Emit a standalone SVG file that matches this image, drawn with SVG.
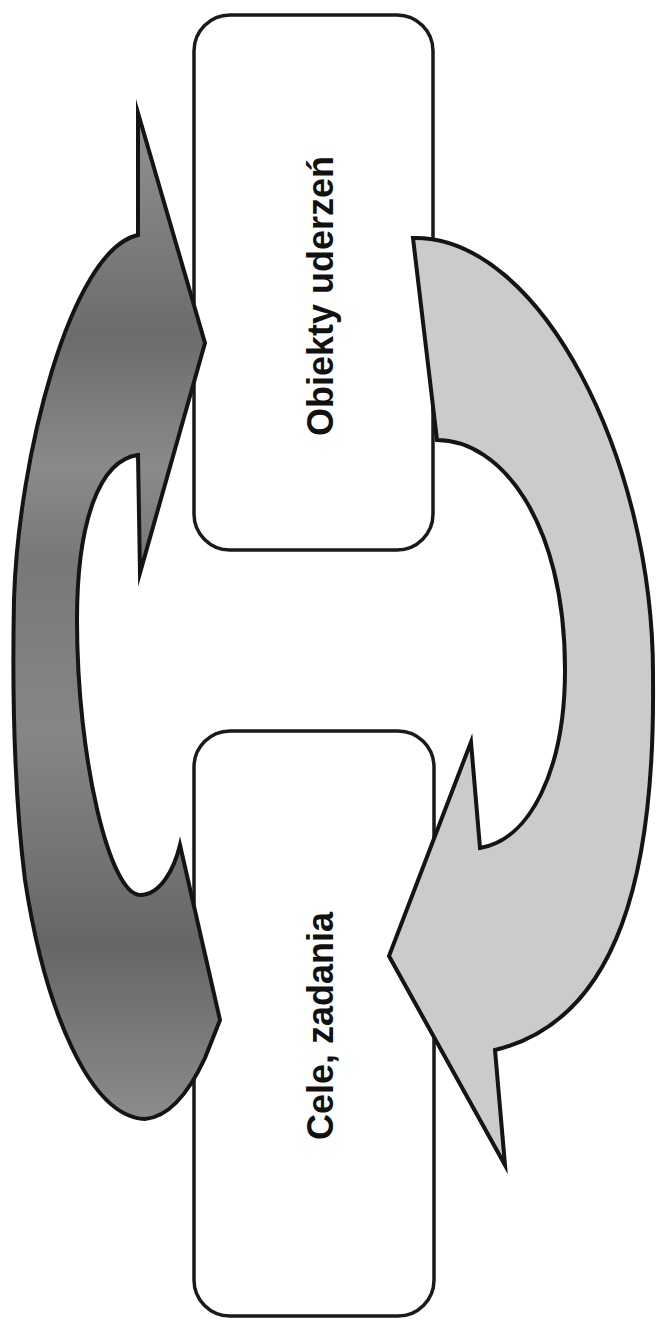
<svg xmlns="http://www.w3.org/2000/svg" width="656" height="1322" viewBox="0 0 656 1322">
  <style>
    .box { fill: #ffffff; stroke: #1a1a1a; stroke-width: 3.5; }
    .lbl { font-family: "Liberation Sans", Arial, sans-serif; font-weight: bold; font-size: 36px; fill: #111111; text-anchor: middle; }
    .arrow { stroke: #141414; stroke-width: 4; stroke-linejoin: miter; stroke-miterlimit: 20; }
  </style>
  <defs>
    <linearGradient id="darkFill" gradientUnits="userSpaceOnUse" x1="0" y1="100" x2="0" y2="1120">
      <stop offset="0" stop-color="#949494"/>
      <stop offset="0.23" stop-color="#6c6c6c"/>
      <stop offset="0.36" stop-color="#8a8a8a"/>
      <stop offset="0.45" stop-color="#787878"/>
      <stop offset="0.62" stop-color="#868686"/>
      <stop offset="0.83" stop-color="#666666"/>
      <stop offset="1" stop-color="#8c8c8c"/>
    </linearGradient>
  </defs>
  <rect width="656" height="1322" fill="#ffffff"/>
  <g id="node-obiekty">
    <rect class="box" x="194" y="15" width="239" height="535" rx="36" ry="36"/>
    <text class="lbl" transform="translate(333,296) rotate(-90)">Obiekty uderzeń</text>
  </g>
  <g id="node-cele">
    <rect class="box" x="194" y="731" width="240" height="585" rx="36" ry="36"/>
    <text class="lbl" transform="translate(333,1026) rotate(-90)">Cele, zadania</text>
  </g>
  <g id="connectors">
    <path id="arrow-cele-to-obiekty" class="arrow" fill="url(#darkFill)"
      d="M205,343 L140,573 L138,455 C100,460 77,520 77,620 C77,760 110,895 140,895 C160,895 174,870 180,845 L220,1020 L205,1058 C190,1090 170,1117 145,1119 C90,1117 45,1010 25,880 C15,800 12,700 14,600 C18,460 70,250 138,235 L138,113 Z"/>
    <path id="arrow-obiekty-to-cele" class="arrow" fill="#cbcbcb"
      d="M413,238 C540,235 655,460 653,680 C655,870 620,1020 495,1050 L505,1165 L389,956 L471,742 L480,848 C530,840 565,770 565,670 C565,520 500,440 437,440 Z"/>
  </g>
</svg>
